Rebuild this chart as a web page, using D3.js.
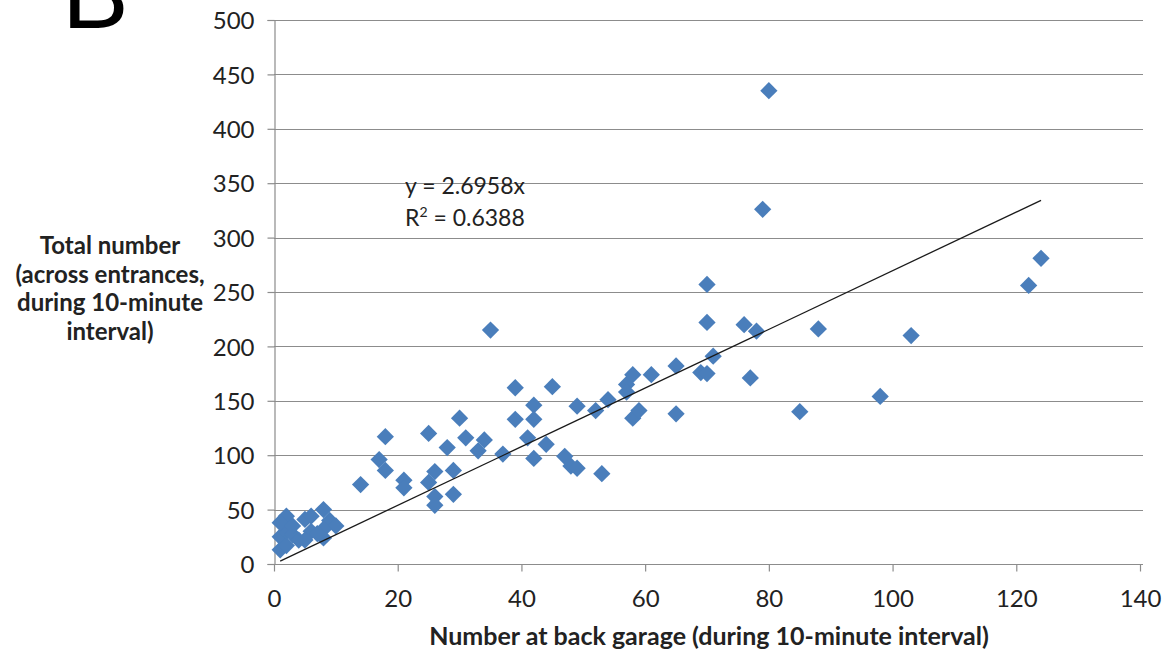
<!DOCTYPE html>
<html>
<head>
<meta charset="utf-8">
<script src="https://cdn.jsdelivr.net/npm/d3@7"></script>
<style>
  body { margin: 0; background: #fff; }
  svg { display: block; font-family: Lato, "Open Sans", sans-serif; }
</style>
</head>
<body>
<svg id="chart" width="1169" height="656"></svg>
<script>
// back garage count (x) and total count (y), one per 10-minute interval
const backGarage = [
  1, 1, 2, 2, 2, 1, 3, 4, 5, 6, 6, 5, 8, 9, 10, 8, 8, 7, 3,
  14, 17, 18, 18, 21, 21, 25, 25, 26, 26, 26, 28, 29, 29, 30, 31, 33, 34,
  35, 37, 39, 39, 41, 42, 42, 42, 44, 45, 47, 48, 49, 49, 52, 53, 54,
  57, 57, 58, 58, 59, 61, 65, 65, 69, 70, 70, 70, 71, 76, 77, 78, 79, 80,
  85, 88, 98, 103, 122, 124
];
const totalCount = [
  13, 25, 17, 30, 44, 38, 27, 22, 41, 44, 30, 22, 50, 40, 35, 24, 32, 28, 35,
  73, 96, 117, 86, 77, 70, 120, 75, 85, 62, 54, 107, 86, 64, 134, 116, 104, 114,
  215, 101, 162, 133, 116, 146, 133, 97, 110, 163, 99, 90, 145, 88, 141, 83, 151,
  165, 158, 174, 134, 141, 174, 182, 138, 176, 257, 222, 175, 191, 220, 171, 214, 326, 435,
  140, 216, 154, 210, 256, 281
];
const xTicks = [0, 20, 40, 60, 80, 100, 120, 140];
const yTicks = [0, 50, 100, 150, 200, 250, 300, 350, 400, 450, 500];
const slope = 2.6958;
const rSquared = "0.6388";
const yTitle = ["Total number", "(across entrances,", "during 10-minute", "interval)"];
const xTitle = "Number at back garage (during 10-minute interval)";

const data = backGarage.map((x, i) => ({ x: x, y: totalCount[i] }));

const svg = d3.select("#chart");
const gridColor = "#8c8c8c";

const x = d3.scaleLinear().domain([0, 140]).range([274, 1140]);
const y = d3.scaleLinear().domain([0, 500]).range([564, 20]);

// horizontal gridlines
svg.append("g")
  .selectAll("line")
  .data(yTicks.filter(d => d > 0))
  .enter()
  .append("line")
  .attr("x1", x(0))
  .attr("x2", x(140) + 3)
  .attr("y1", d => Math.round(y(d)) + 0.5)
  .attr("y2", d => Math.round(y(d)) + 0.5)
  .attr("stroke", gridColor)
  .attr("stroke-width", 1.2);

// axes
const xAxis = svg.append("g")
  .attr("transform", "translate(0," + (Math.round(y(0)) + 0.5) + ")")
  .call(d3.axisBottom(x).tickValues(xTicks).tickSize(7).tickPadding(21));
const yAxis = svg.append("g")
  .attr("transform", "translate(" + (Math.round(x(0)) + 0.5) + ",0)")
  .call(d3.axisLeft(y).tickValues(yTicks).tickSize(7).tickPadding(13));

[xAxis, yAxis].forEach(g => {
  g.select(".domain").attr("stroke", gridColor).attr("stroke-width", 1.2);
  g.selectAll(".tick line").attr("stroke", gridColor).attr("stroke-width", 1.2);
  g.selectAll(".tick text")
    .attr("fill", "#222")
    .style("font-size", "24px")
    .style("font-family", "Lato, 'Open Sans', sans-serif");
});
xAxis.select(".domain").attr("d", "M" + x(0) + ",0H" + (x(140) + 3));
xAxis.selectAll(".tick text").attr("dy", "0.62em");
yAxis.selectAll(".tick text").attr("dy", "0.36em");

// points
const diamond = d3.symbol().type(d3.symbolDiamond2).size(190);
svg.append("g")
  .selectAll("path")
  .data(data)
  .enter()
  .append("path")
  .attr("d", diamond)
  .attr("transform", d => "translate(" + x(d.x) + "," + y(d.y) + ")")
  .attr("fill", "#4a7ebb");

// linear trendline through origin, drawn over data range
const xr = d3.extent(data, d => d.x);
svg.append("line")
  .attr("x1", x(xr[0]))
  .attr("y1", y(slope * xr[0]))
  .attr("x2", x(xr[1]))
  .attr("y2", y(slope * xr[1]))
  .attr("stroke", "#1a1a1a")
  .attr("stroke-width", 1.3);

// equation label
const eq = svg.append("g").style("font-size", "23px").attr("fill", "#222");
eq.append("text").attr("x", 405).attr("y", 194).text("y = " + slope + "x");
const r2 = eq.append("text").attr("x", 405).attr("y", 226);
r2.append("tspan").text("R");
r2.append("tspan").attr("dy", -9).style("font-size", "14px").text("2");
r2.append("tspan").attr("dy", 9).text(" = " + rSquared);

// axis titles
svg.append("text")
  .attr("x", 709)
  .attr("y", 645)
  .attr("text-anchor", "middle")
  .style("font-size", "25px")
  .style("font-weight", "bold")
  .attr("fill", "#222")
  .text(xTitle);

svg.append("g")
  .selectAll("text")
  .data(yTitle)
  .enter()
  .append("text")
  .attr("x", 110)
  .attr("y", (d, i) => 254 + i * 28.5)
  .attr("text-anchor", "middle")
  .style("font-size", "24px")
  .style("font-weight", "bold")
  .attr("fill", "#222")
  .text(d => d);

// panel letter, clipped at the top edge
svg.append("text")
  .attr("x", 62)
  .attr("y", 28)
  .style("font-family", "'Liberation Sans', Arial, sans-serif")
  .style("font-size", "100px")
  .attr("fill", "#000")
  .text("B");
</script>
</body>
</html>
